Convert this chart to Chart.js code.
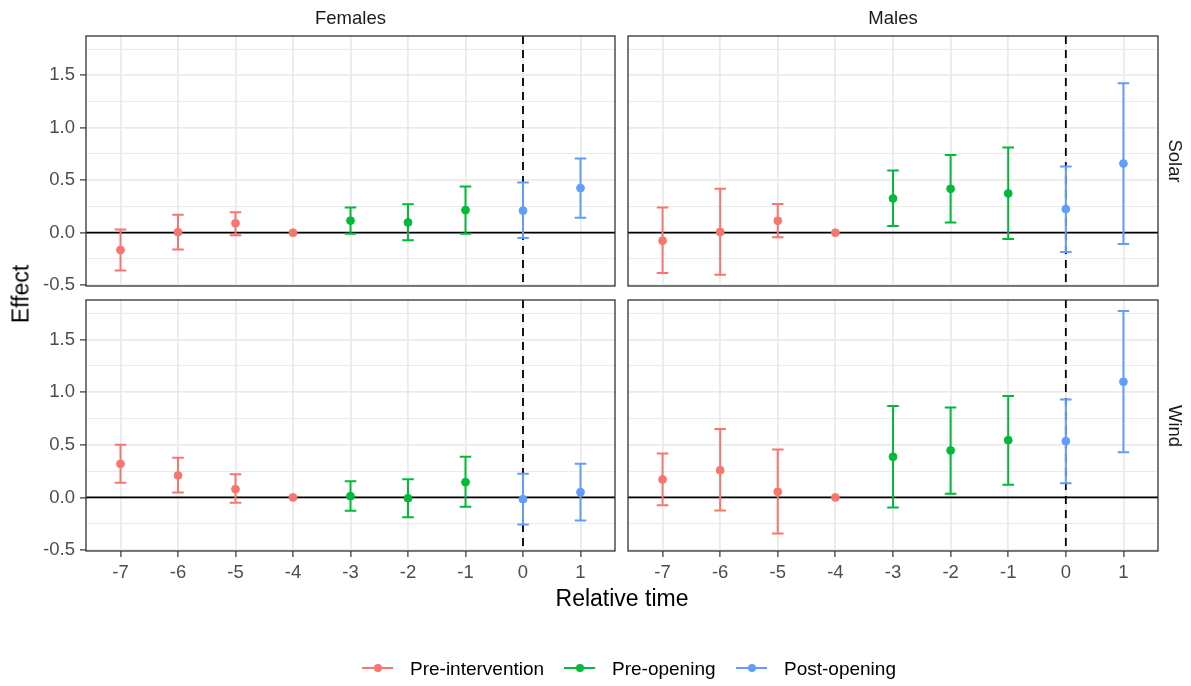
<!DOCTYPE html>
<html>
<head>
<meta charset="utf-8">
<title>Effect by relative time</title>
<script src="https://cdn.jsdelivr.net/npm/chart.js"></script>
<style>
  body { margin: 0; width: 1191px; height: 686px; background: #fff; position: relative; overflow: hidden;
         font-family: 'Liberation Sans', Arial, sans-serif; }
  canvas { position: absolute; left: 0; top: 0; }
  .txt { position: absolute; white-space: nowrap; line-height: 1; transform-origin: center; }
  .strip { font-size: 18.5px; color: #1a1a1a; }
  .title { font-size: 23px; color: #000; }
  .key { position: absolute; height: 2px; width: 31px; }
  .dot { position: absolute; width: 8px; height: 8px; border-radius: 50%; }
  .legtxt { position: absolute; font-size: 19px; color: #000; line-height: 1; white-space: nowrap; }
</style>
</head>
<body>
<canvas id="femSolar" width="1191" height="686"></canvas>
<canvas id="maleSolar" width="1191" height="686"></canvas>
<canvas id="femWind" width="1191" height="686"></canvas>
<canvas id="maleWind" width="1191" height="686"></canvas>
<div id="labels"></div>
<div id="legend"></div>
<script>
// data
const relTime = [-7, -6, -5, -4, -3, -2, -1, 0, 1];
const phaseOf = ['Pre-intervention', 'Pre-intervention', 'Pre-intervention', 'Pre-intervention',
  'Pre-opening', 'Pre-opening', 'Pre-opening', 'Post-opening', 'Post-opening'];
const phases = ['Pre-intervention', 'Pre-opening', 'Post-opening'];
const phaseColors = ['#F8766D', '#00BA38', '#619CFF'];
const yTickValues = [-0.5, -0.25, 0, 0.25, 0.5, 0.75, 1, 1.25, 1.5, 1.75];

// Females / Solar
const femSolarEst  = [-0.165, 0.005, 0.09, 0, 0.115, 0.098, 0.215, 0.21, 0.425];
const femSolarLow  = [-0.36, -0.16, -0.025, null, -0.01, -0.073, -0.01, -0.05, 0.143];
const femSolarHigh = [0.03, 0.17, 0.195, null, 0.24, 0.27, 0.44, 0.478, 0.706];
// Males / Solar
const maleSolarEst  = [-0.076, 0.007, 0.114, 0, 0.326, 0.418, 0.374, 0.225, 0.659];
const maleSolarLow  = [-0.385, -0.4, -0.044, null, 0.063, 0.098, -0.06, -0.183, -0.108];
const maleSolarHigh = [0.24, 0.418, 0.273, null, 0.592, 0.741, 0.811, 0.63, 1.423];
// Females / Wind
const femWindEst  = [0.319, 0.209, 0.079, 0, 0.012, -0.007, 0.145, -0.016, 0.05];
const femWindLow  = [0.139, 0.047, -0.051, null, -0.127, -0.187, -0.089, -0.257, -0.219];
const femWindHigh = [0.5, 0.376, 0.221, null, 0.155, 0.174, 0.386, 0.224, 0.319];
// Males / Wind
const maleWindEst  = [0.171, 0.259, 0.054, 0, 0.386, 0.446, 0.544, 0.535, 1.098];
const maleWindLow  = [-0.073, -0.124, -0.342, null, -0.095, 0.035, 0.12, 0.136, 0.43];
const maleWindHigh = [0.418, 0.649, 0.456, null, 0.867, 0.855, 0.962, 0.93, 1.769];

const FONT = "'Liberation Sans', Arial, sans-serif";
Chart.defaults.font.family = FONT;

const capHalf = 0.1;
const isMajor = v => Math.abs(v * 2 - Math.round(v * 2)) < 1e-6;

// zero line, opening line, error bars and panel frame
const panelDecor = {
  id: 'panelDecor',
  beforeDatasetsDraw(chart) {
    const { ctx, chartArea: a, scales: { x, y } } = chart;
    ctx.save();
    ctx.strokeStyle = '#000';
    ctx.lineWidth = 1.8;
    const y0 = y.getPixelForValue(0);
    ctx.beginPath(); ctx.moveTo(a.left, y0); ctx.lineTo(a.right, y0); ctx.stroke();
    const x0 = x.getPixelForValue(0);
    ctx.setLineDash([8, 6]);
    ctx.beginPath(); ctx.moveTo(x0, a.top); ctx.lineTo(x0, a.bottom); ctx.stroke();
    ctx.setLineDash([]);

    ctx.lineWidth = 2;
    chart.data.datasets.forEach(ds => {
      ctx.strokeStyle = ds.borderColor;
      ds.data.forEach(p => {
        if (p.lo == null) return;
        const px = x.getPixelForValue(p.x);
        const xl = x.getPixelForValue(p.x - capHalf), xr = x.getPixelForValue(p.x + capHalf);
        const yl = y.getPixelForValue(p.lo), yh = y.getPixelForValue(p.hi);
        ctx.beginPath();
        ctx.moveTo(px, yl); ctx.lineTo(px, yh);
        ctx.moveTo(xl, yl); ctx.lineTo(xr, yl);
        ctx.moveTo(xl, yh); ctx.lineTo(xr, yh);
        ctx.stroke();
      });
    });
    ctx.restore();
  },
  afterDraw(chart) {
    const { ctx, chartArea: a } = chart;
    ctx.save();
    ctx.strokeStyle = '#333333';
    ctx.lineWidth = 1.3;
    ctx.strokeRect(a.left, a.top, a.right - a.left, a.bottom - a.top);
    ctx.restore();
  }
};

function makePanel(id, est, low, high, box, showX, showY) {
  const datasets = phases.map((ph, k) => ({
    label: ph,
    data: relTime.map((t, i) => ({ x: t, y: est[i], lo: low[i], hi: high[i], ph: phaseOf[i] }))
                 .filter(p => p.ph === ph),
    backgroundColor: phaseColors[k],
    borderColor: phaseColors[k],
    pointRadius: 3.9,
    pointBorderWidth: 1,
    pointHoverRadius: 3.9
  }));
  const yW = showY ? 50 : 0;
  const xH = showX ? 40 : 0;
  new Chart(document.getElementById(id), {
    type: 'scatter',
    data: { datasets },
    options: {
      responsive: false,
      animation: false,
      events: [],
      layout: { padding: { left: box.left - yW, top: box.top, right: 1191 - box.right, bottom: 686 - box.bottom - xH } },
      plugins: { legend: { display: false }, tooltip: { enabled: false } },
      scales: {
        x: {
          type: 'linear', min: -7.6, max: 1.6,
          afterBuildTicks: s => { s.ticks = relTime.map(v => ({ value: v })); },
          afterFit: s => { s.height = xH; },
          border: { display: false },
          grid: { color: '#EBEBEB', lineWidth: 1.8, drawTicks: showX, tickLength: 6, tickColor: '#333333', tickWidth: 1.2 },
          ticks: { display: showX, callback: v => String(v), color: '#4D4D4D', padding: 5,
                   maxRotation: 0, autoSkip: false, font: { size: 18.5, family: FONT } }
        },
        y: {
          type: 'linear', min: -0.508, max: 1.874,
          afterBuildTicks: s => { s.ticks = yTickValues.map(v => ({ value: v })); },
          afterFit: s => { s.width = yW; },
          border: { display: false },
          grid: {
            color: '#EBEBEB',
            lineWidth: c => isMajor(c.tick.value) ? 1.8 : 1,
            drawTicks: showY, tickLength: 6,
            tickColor: c => isMajor(c.tick.value) ? '#333333' : 'rgba(0,0,0,0)',
            tickWidth: 1.2
          },
          ticks: { display: showY, callback: v => isMajor(v) ? v.toFixed(1) : '', color: '#4D4D4D', padding: 5,
                   autoSkip: false, font: { size: 18.5, family: FONT } }
        }
      }
    },
    plugins: [panelDecor]
  });
}

makePanel('femSolar', femSolarEst, femSolarLow, femSolarHigh, { left: 86, top: 36, right: 615, bottom: 286 }, false, true);
makePanel('maleSolar', maleSolarEst, maleSolarLow, maleSolarHigh, { left: 628, top: 36, right: 1158, bottom: 286 }, false, false);
makePanel('femWind', femWindEst, femWindLow, femWindHigh, { left: 86, top: 300, right: 615, bottom: 551 }, true, true);
makePanel('maleWind', maleWindEst, maleWindLow, maleWindHigh, { left: 628, top: 300, right: 1158, bottom: 551 }, true, false);

// strip labels and axis titles
const labels = [
  { t: 'Females', x: 350.5, y: 18, cls: 'strip', rot: 0 },
  { t: 'Males', x: 893, y: 18, cls: 'strip', rot: 0 },
  { t: 'Solar', x: 1175, y: 161, cls: 'strip', rot: 90 },
  { t: 'Wind', x: 1175, y: 426, cls: 'strip', rot: 90 },
  { t: 'Effect', x: 21, y: 294, cls: 'title', rot: -90 },
  { t: 'Relative time', x: 622, y: 598, cls: 'title', rot: 0 }
];
const lab = document.getElementById('labels');
labels.forEach(l => {
  const d = document.createElement('div');
  d.className = 'txt ' + l.cls;
  d.textContent = l.t;
  d.style.left = l.x + 'px';
  d.style.top = l.y + 'px';
  d.style.transform = 'translate(-50%, -50%) rotate(' + l.rot + 'deg)';
  lab.appendChild(d);
});

// legend
const legendKeyX = [362, 564, 736];
const legend = document.getElementById('legend');
phases.forEach((ph, k) => {
  const line = document.createElement('div');
  line.className = 'key';
  line.style.left = legendKeyX[k] + 'px';
  line.style.top = '667px';
  line.style.background = phaseColors[k];
  const dot = document.createElement('div');
  dot.className = 'dot';
  dot.style.left = (legendKeyX[k] + 11.5) + 'px';
  dot.style.top = '664px';
  dot.style.background = phaseColors[k];
  const tx = document.createElement('div');
  tx.className = 'legtxt';
  tx.textContent = ph;
  tx.style.left = (legendKeyX[k] + 48) + 'px';
  tx.style.top = '659px';
  legend.appendChild(line);
  legend.appendChild(dot);
  legend.appendChild(tx);
});
</script>
</body>
</html>
